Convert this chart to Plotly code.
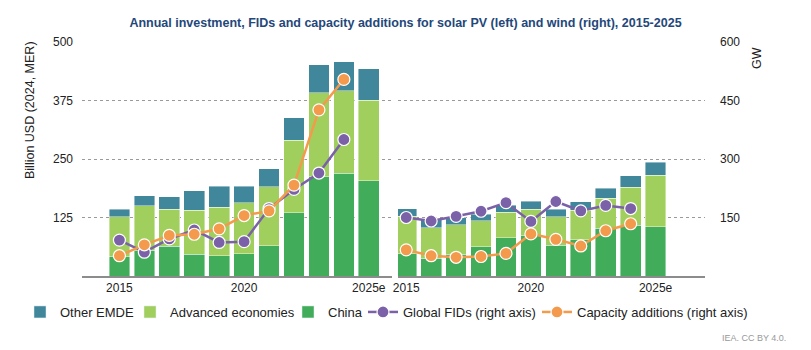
import plotly.graph_objects as go

years = [2015, 2016, 2017, 2018, 2019, 2020, 2021, 2022, 2023, 2024, 2025]
line_years = years[:-1]

# Solar PV (billion USD)
pv_china = [41, 55, 64, 47, 43, 48, 65, 135, 212, 220, 204]
pv_adv = [86, 95, 79, 93, 104, 109, 126, 155, 180, 176, 172]
pv_other = [16, 22, 26, 42, 45, 35, 38, 48, 59, 62, 67]
pv_fids = [92, 61, 95, 118, 86, 88, 173, 222, 264, 350]
pv_cap = [52, 80, 104, 107, 121, 155, 167, 233, 426, 504]

# Wind (billion USD)
w_china = [48, 38, 46, 62, 82, 86, 66, 77, 102, 108, 105]
w_adv = [80, 65, 63, 56, 54, 57, 61, 63, 64, 82, 110]
w_other = [16, 17, 16, 14, 15, 17, 16, 19, 21, 24, 28]
w_fids = [150, 141, 153, 166, 188, 140, 191, 167, 181, 173]
w_cap = [67, 52, 48, 50, 58, 108, 94, 77, 116, 134]

tickvals = [2015, 2020, 2025]
ticktext = ["2015", "2020", "2025e"]

C_OTHER = "#40879B"
C_ADV = "#A1CF5E"
C_CHINA = "#41AD5A"
C_FID = "#7B61A8"
C_CAP = "#F39A4C"

FONT = "Liberation Sans, Arial, sans-serif"

fig = go.Figure()

def add_panel(xa, ybar, yline, china, adv, other, fids, cap, show):
    edge = dict(color="rgba(255,255,255,0.7)", width=0.6)
    fig.add_trace(go.Bar(x=years, y=china, name="China", marker=dict(color=C_CHINA, line=edge),
                         xaxis=xa, yaxis=ybar, showlegend=False))
    fig.add_trace(go.Bar(x=years, y=adv, name="Advanced economies", marker=dict(color=C_ADV, line=edge),
                         xaxis=xa, yaxis=ybar, showlegend=False))
    fig.add_trace(go.Bar(x=years, y=other, name="Other EMDE", marker=dict(color=C_OTHER, line=edge),
                         xaxis=xa, yaxis=ybar, showlegend=False))
    mk = dict(size=12, line=dict(color="white", width=1.2))
    fig.add_trace(go.Scatter(x=line_years, y=fids, name="Global FIDs (right axis)", mode="lines+markers",
                             line=dict(color=C_FID, width=2.5), marker=dict(color=C_FID, **mk),
                             xaxis=xa, yaxis=yline, showlegend=show, legend="legend4"))
    fig.add_trace(go.Scatter(x=line_years, y=cap, name="Capacity additions (right axis)", mode="lines+markers",
                             line=dict(color=C_CAP, width=2.5), marker=dict(color=C_CAP, **mk),
                             xaxis=xa, yaxis=yline, showlegend=show, legend="legend5"))

add_panel("x", "y", "y2", pv_china, pv_adv, pv_other, pv_fids, pv_cap, True)
add_panel("x2", "y3", "y4", w_china, w_adv, w_other, w_fids, w_cap, False)

# legend-only bar entries
for nm, col, lg in [("Other EMDE", C_OTHER, "legend"), ("Advanced economies", C_ADV, "legend2"),
                    ("China", C_CHINA, "legend3")]:
    fig.add_trace(go.Bar(x=[None], y=[None], name=nm, marker=dict(color=col), xaxis="x", yaxis="y",
                         showlegend=True, legend=lg))

grid = dict(showgrid=True, gridcolor="#9a9a9a", griddash="dot", gridwidth=1)
xcommon = dict(tickvals=tickvals, ticktext=ticktext, showline=True, linecolor="#8c8c8c", linewidth=1.5,
               ticks="", showgrid=False, zeroline=False, tickfont=dict(size=12, color="#222"))

def leg(text_start):
    return dict(orientation="h", xref="container", yref="container", x=(text_start - 40) / 811,
                xanchor="left", y=1 - 312 / 350, yanchor="middle",
                font=dict(size=13, color="#222"), itemwidth=30, bgcolor="rgba(0,0,0,0)")

fig.update_layout(
    width=811, height=350,
    margin=dict(l=82, r=106, t=42, b=74, autoexpand=False),
    paper_bgcolor="white", plot_bgcolor="white",
    font=dict(family=FONT, size=12, color="#222"),
    barmode="stack", bargap=0.17,
    title=dict(text="<b>Annual investment, FIDs and capacity additions for solar PV (left) and wind (right), 2015-2025</b>",
               x=0.5, xanchor="center", y=0.935, yanchor="middle",
               font=dict(size=12.5, color="#24477A", family=FONT)),
    xaxis=dict(domain=[0, 0.4976], range=[2013.5, 2025.93], anchor="y", **xcommon),
    xaxis2=dict(domain=[0.5072, 1], range=[2014.67, 2026.98], anchor="y3", **xcommon),
    yaxis=dict(range=[0, 500], tickvals=[125, 250, 375, 500], anchor="x", showline=False, zeroline=False,
               ticks="", ticklabelstandoff=8, tickfont=dict(size=12, color="#222"), **grid),
    yaxis2=dict(range=[0, 600], overlaying="y", anchor="x", side="right", showticklabels=False,
                showgrid=False, zeroline=False, showline=False),
    yaxis3=dict(range=[0, 500], tickvals=[125, 250, 375, 500], anchor="x2", showticklabels=False,
                showline=False, zeroline=False, ticks="", **grid),
    yaxis4=dict(range=[0, 600], tickvals=[150, 300, 450, 600], overlaying="y3", anchor="x2", side="right",
                showgrid=False, zeroline=False, showline=False, ticks="", ticklabelstandoff=14,
                tickfont=dict(size=12, color="#222")),
    legend=leg(60), legend2=leg(170), legend3=leg(328), legend4=leg(403), legend5=leg(577),
    annotations=[
        dict(text="Billion USD (2024, MER)", textangle=-90, xref="paper", yref="paper",
             x=(30 - 82) / 623, y=(276 - 110) / 234, xanchor="center", yanchor="middle",
             showarrow=False, font=dict(size=12.5, color="#222")),
        dict(text="GW", textangle=-90, xref="paper", yref="paper",
             x=(757 - 82) / 623, y=(276 - 58) / 234, xanchor="center", yanchor="middle",
             showarrow=False, font=dict(size=12.5, color="#222")),
        dict(text="IEA. CC BY 4.0.", xref="paper", yref="paper",
             x=(788 - 82) / 623, y=(276 - 338) / 234, xanchor="right", yanchor="middle",
             showarrow=False, font=dict(size=9, color="#999")),
    ],
)

fig.write_html("out.html")
